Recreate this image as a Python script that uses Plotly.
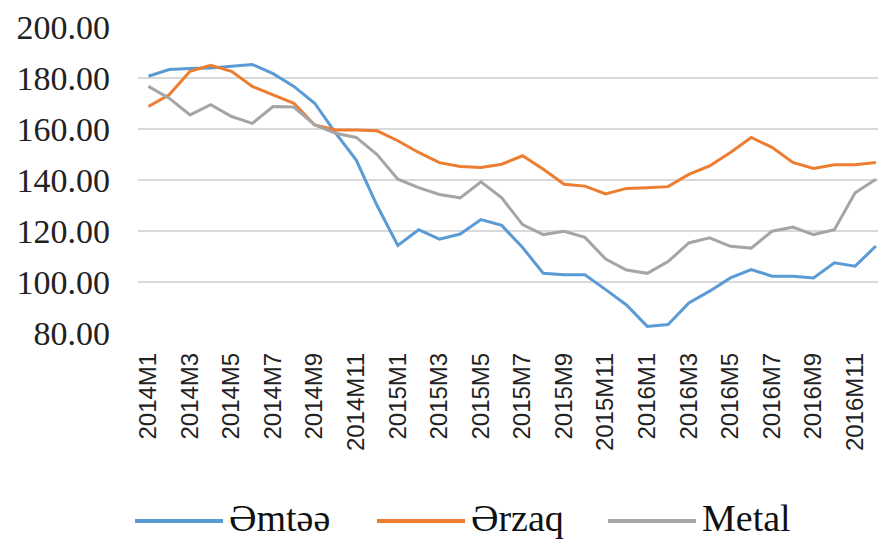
import plotly.graph_objects as go

months = [
    "2014M1", "2014M2", "2014M3", "2014M4", "2014M5", "2014M6",
    "2014M7", "2014M8", "2014M9", "2014M10", "2014M11", "2014M12",
    "2015M1", "2015M2", "2015M3", "2015M4", "2015M5", "2015M6",
    "2015M7", "2015M8", "2015M9", "2015M10", "2015M11", "2015M12",
    "2016M1", "2016M2", "2016M3", "2016M4", "2016M5", "2016M6",
    "2016M7", "2016M8", "2016M9", "2016M10", "2016M11", "2016M12",
]

emtee = [180.7, 183.3, 183.7, 183.9, 184.6, 185.3, 181.7, 176.7, 170.1, 158.5, 147.8, 130.0,
         114.3, 120.5, 116.8, 118.8, 124.5, 122.2, 113.5, 103.4, 102.8, 102.8, 97.0, 91.0,
         82.6, 83.3, 91.8, 96.4, 101.6, 104.9, 102.3, 102.3, 101.6, 107.5, 106.2, 114.1]

erzaq = [168.8, 173.4, 182.6, 185.0, 182.6, 176.7, 173.4, 170.1, 161.6, 159.6, 159.6, 159.3,
         155.4, 150.8, 146.8, 145.3, 144.9, 146.2, 149.5, 144.2, 138.3, 137.6, 134.5, 136.7,
         137.0, 137.4, 142.2, 145.5, 150.8, 156.7, 152.8, 146.9, 144.5, 146.0, 146.0, 146.9]

metal = [176.7, 172.1, 165.5, 169.5, 164.9, 162.2, 168.8, 168.6, 161.6, 158.3, 156.7, 150.0,
         140.3, 137.0, 134.3, 133.0, 139.3, 133.0, 122.5, 118.6, 119.9, 117.5, 109.0, 104.7,
         103.4, 108.0, 115.3, 117.3, 114.0, 113.3, 119.9, 121.5, 118.6, 120.5, 135.0, 140.3]

series = [("Əmtəə", emtee, "#5B9BD5"), ("Ərzaq", erzaq, "#ED7D31"), ("Metal", metal, "#A5A5A5")]

W, H = 878, 541
L, R, T, B = 138, 0, 27, 208  # margins (px)

def px_x(x):  # pixel -> paper
    return (x - L) / (W - L - R)

def px_y(y):
    return (H - B - y) / (H - T - B)

fig = go.Figure()
for name, vals, color in series:
    fig.add_trace(go.Scatter(x=months, y=vals, name=name, mode="lines",
                             line=dict(color=color, width=3), showlegend=False))

# legend drawn by hand so the sample lines are long like the original
legend_x = [135, 377, 608]  # left end of each sample line (px)
for (name, _, color), x0 in zip(series, legend_x):
    fig.add_shape(type="line", xref="paper", yref="paper",
                  x0=px_x(x0), x1=px_x(x0 + 88), y0=px_y(521), y1=px_y(521),
                  line=dict(color=color, width=4))
    fig.add_annotation(xref="paper", yref="paper", x=px_x(x0 + 92), y=px_y(518),
                       text=name, showarrow=False, xanchor="left", yanchor="middle",
                       font=dict(family="Liberation Serif", size=38, color="#111111"))

fig.update_layout(
    width=W, height=H,
    template="plotly_white",
    plot_bgcolor="white", paper_bgcolor="white",
    margin=dict(l=L, r=R, t=T, b=B, autoexpand=False),
    font=dict(family="Liberation Serif", color="#222222"),
    showlegend=False,
)
fig.update_xaxes(
    type="category", range=[-0.5, 35.1],
    tickvals=months[::2], ticktext=months[::2], tickangle=-90,
    tickfont=dict(family="Liberation Sans", size=24, color="#222222"),
    ticklabelstandoff=14,
    showgrid=False, showline=False, ticks="", zeroline=False, automargin=False,
)
fig.update_yaxes(
    range=[80, 200], dtick=20, tickformat=".2f",
    tickfont=dict(family="Liberation Serif", size=34, color="#222222"),
    ticklabelstandoff=27,
    gridcolor="#D9D9D9", gridwidth=2, zeroline=False, showline=False, ticks="",
    automargin=False,
)

fig.write_html("out.html", config={"displayModeBar": False},
               post_script="document.body.style.margin='0';")
